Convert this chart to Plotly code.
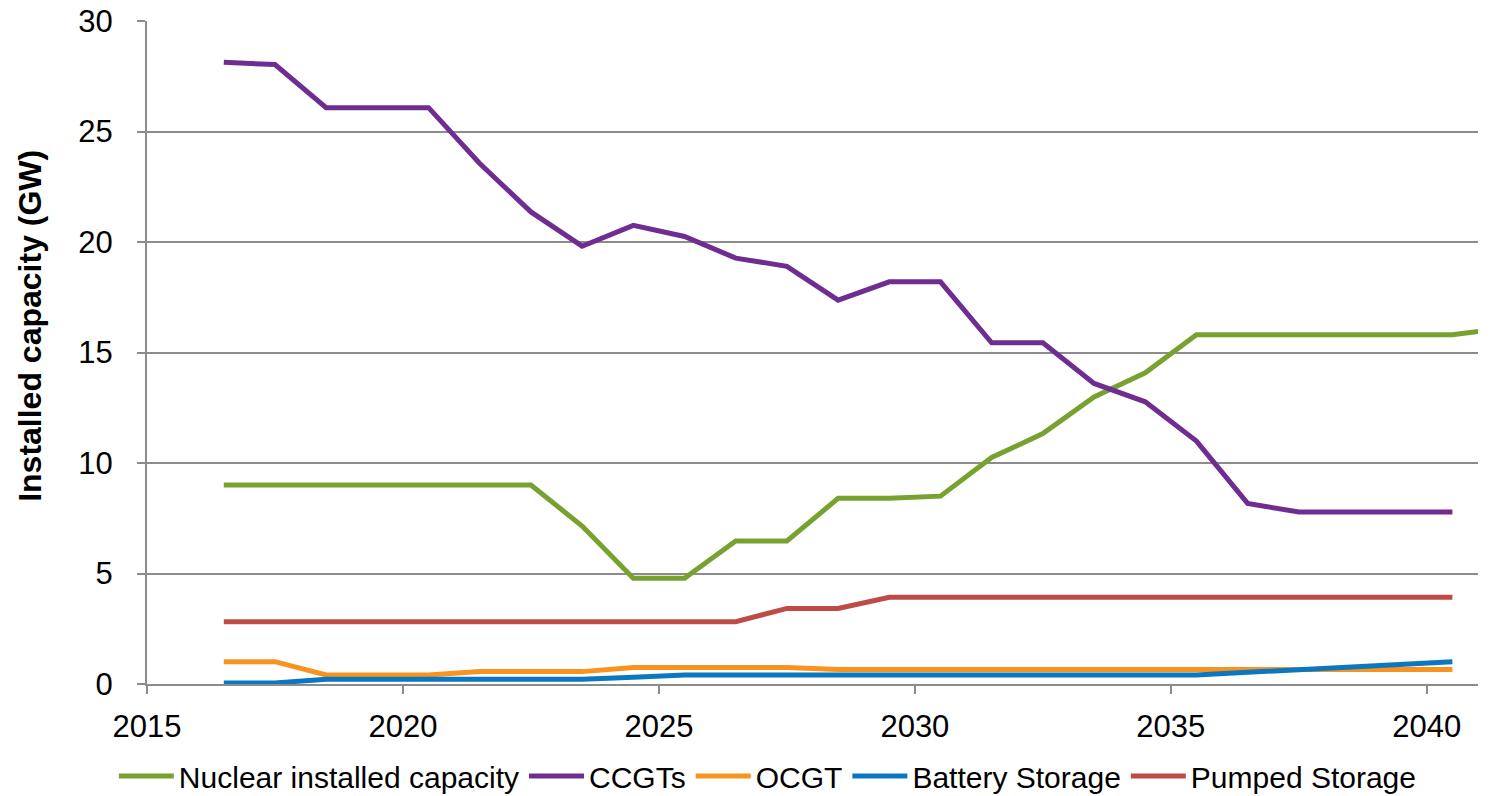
import plotly.graph_objects as go

# Mid-year positions for each year of the outlook
years = [2016.5, 2017.5, 2018.5, 2019.5, 2020.5, 2021.5, 2022.5, 2023.5, 2024.5,
         2025.5, 2026.5, 2027.5, 2028.5, 2029.5, 2030.5, 2031.5, 2032.5, 2033.5,
         2034.5, 2035.5, 2036.5, 2037.5, 2038.5, 2039.5, 2040.5]
nuclear_years = years + [2041.5]

nuclear = [9.0, 9.0, 9.0, 9.0, 9.0, 9.0, 9.0, 7.15, 4.78, 4.78, 6.47, 6.47, 8.4,
           8.4, 8.5, 10.25, 11.33, 12.99, 14.08, 15.8, 15.8, 15.8, 15.8, 15.8,
           15.8, 16.1]
ccgt = [28.13, 28.03, 26.08, 26.08, 26.08, 23.55, 21.36, 19.81, 20.75, 20.25,
        19.27, 18.9, 17.37, 18.2, 18.2, 15.44, 15.44, 13.6, 12.77, 10.99, 8.17,
        7.78, 7.78, 7.78, 7.78]
ocgt = [1.01, 1.01, 0.41, 0.41, 0.41, 0.56, 0.56, 0.56, 0.75, 0.75, 0.75, 0.75,
        0.66, 0.66, 0.66, 0.66, 0.66, 0.66, 0.66, 0.66, 0.66, 0.66, 0.66, 0.66, 0.66]
battery = [0.05, 0.05, 0.21, 0.21, 0.21, 0.21, 0.21, 0.21, 0.3, 0.41, 0.41, 0.41,
           0.41, 0.41, 0.41, 0.41, 0.41, 0.41, 0.41, 0.41, 0.53, 0.65, 0.77, 0.89, 1.01]
pumped = [2.82, 2.82, 2.82, 2.82, 2.82, 2.82, 2.82, 2.82, 2.82, 2.82, 2.82, 3.42,
          3.42, 3.92, 3.92, 3.92, 3.92, 3.92, 3.92, 3.92, 3.92, 3.92, 3.92, 3.92, 3.92]

x_ticks = [2015, 2020, 2025, 2030, 2035, 2040]
y_ticks = [0, 5, 10, 15, 20, 25, 30]

series = [
    ("Nuclear installed capacity", nuclear_years, nuclear, "#78A22F"),
    ("CCGTs", years, ccgt, "#6F2D91"),
    ("OCGT", years, ocgt, "#F7931E"),
    ("Battery Storage", years, battery, "#0A77C0"),
    ("Pumped Storage", years, pumped, "#BE4B48"),
]

FONT = "Liberation Sans, Arial, sans-serif"
GRID = "#8C8C8C"

fig = go.Figure()
for name, xs, ys, color in series:
    fig.add_trace(go.Scatter(
        x=xs, y=ys, name=name, mode="lines",
        line=dict(color=color, width=5),
        hoverinfo="x+y+name",
    ))

fig.add_annotation(
    text="<b>Installed capacity (GW)</b>", textangle=-90,
    xref="paper", yref="paper", x=-0.088, y=0.54,
    xanchor="center", yanchor="middle", showarrow=False,
    font=dict(family=FONT, size=32, color="black"),
)

fig.update_layout(
    width=1491, height=796,
    paper_bgcolor="white", plot_bgcolor="white",
    margin=dict(l=147, r=13, t=21, b=112),
    font=dict(family=FONT, size=31, color="black"),
    showlegend=True,
    legend=dict(
        orientation="h", xref="container", yref="container",
        x=0.515, xanchor="center", y=0.025, yanchor="middle",
        font=dict(size=30), itemwidth=55, traceorder="normal",
        bgcolor="rgba(0,0,0,0)",
    ),
    xaxis=dict(
        range=[2015, 2041], tickvals=x_ticks, ticktext=[str(v) for v in x_ticks],
        showgrid=False, zeroline=False, automargin=False,
        showline=True, linecolor=GRID, linewidth=2,
        ticks="outside", ticklen=8, tickwidth=2, tickcolor=GRID,
        ticklabelstandoff=6,
    ),
    yaxis=dict(
        range=[0, 30], tickvals=y_ticks, automargin=False,
        showgrid=True, gridcolor=GRID, gridwidth=2,
        zeroline=False,
        showline=True, linecolor=GRID, linewidth=2,
        ticks="outside", ticklen=8, tickwidth=2, tickcolor=GRID,
        ticklabelstandoff=18,
    ),
)

fig.write_html("out.html")
